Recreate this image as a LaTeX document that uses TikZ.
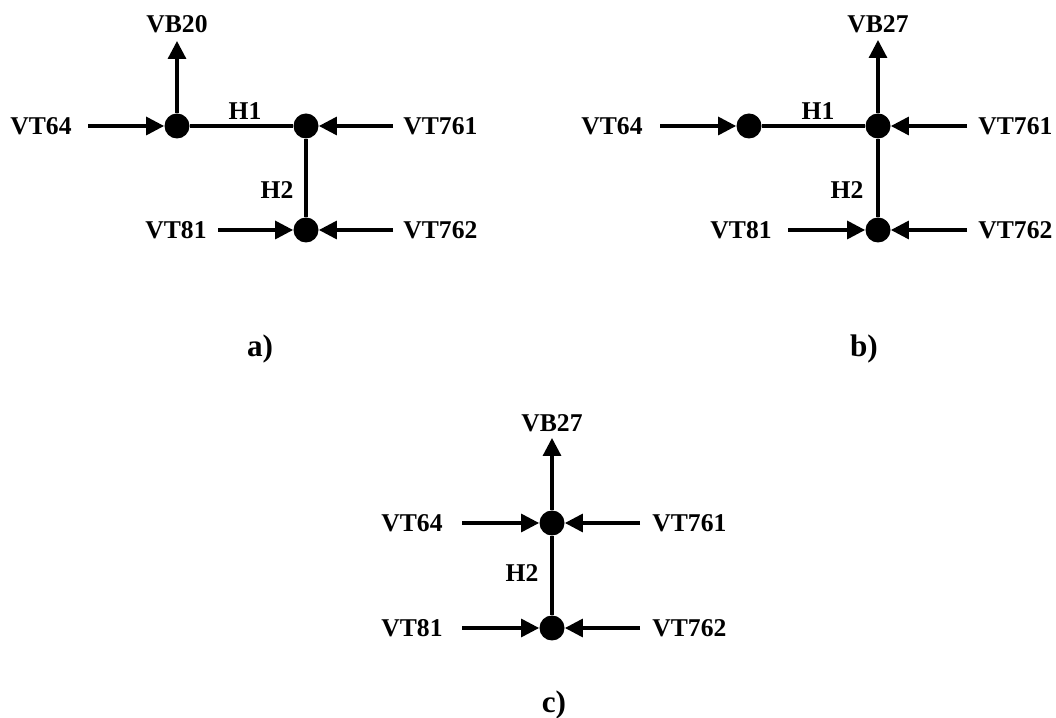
\documentclass[tikz,border=0pt]{standalone}
\usepackage{fontspec}
\setmainfont{Liberation Serif}
\usetikzlibrary{arrows.meta}

\tikzset{
    junction/.style={circle, fill=black, inner sep=0pt, minimum size=12.5pt},
    lbl/.style={font=\fontsize{12.8}{15}\selectfont\bfseries, inner sep=0pt},
    caption/.style={font=\fontsize{15.6}{18}\selectfont\bfseries, inner sep=0pt},
    pipe/.style={line width=1.6pt},
    feed/.style={pipe, -{Triangle[length=9pt,width=9pt]}},
}

\begin{document}
\begin{tikzpicture}[x=0.5pt, y=0.5pt]
    \useasboundingbox (0,0) rectangle (1056,718);

    % a) two junctions on H1, outlet VB20
    \node[junction] (a1) at (177,592) {};
    \node[junction] (a2) at (306,592) {};
    \node[junction] (a3) at (306,488) {};
    \draw[pipe] (a1) -- (a2) -- (a3);
    \node[lbl] (ah1) at (245,607) {H1};
    \node[lbl] (ah2) at (277,528) {H2};
    \node[lbl, anchor=south] (avb) at (177,685) {VB20};
    \node[lbl, anchor=east] (a64) at (72,592) {VT64};
    \node[lbl, anchor=west] (a761) at (403,592) {VT761};
    \node[lbl, anchor=east] (a81) at (207,488) {VT81};
    \node[lbl, anchor=west] (a762) at (403,488) {VT762};
    \draw[feed, shorten >=4pt] (a1) -- (avb);
    \draw[feed, shorten <=8pt] (a64) -- (a1);
    \draw[feed, shorten <=5pt] (a761) -- (a2);
    \draw[feed, shorten <=5.5pt] (a81) -- (a3);
    \draw[feed, shorten <=5pt] (a762) -- (a3);
    \node[caption] (acap) at (260,369) {a)};

    % b) outlet moved to VB27
    \node[junction] (b1) at (749,592) {};
    \node[junction] (b2) at (878,592) {};
    \node[junction] (b3) at (878,488) {};
    \draw[pipe] (b1) -- (b2) -- (b3);
    \node[lbl] (bh1) at (818,607) {H1};
    \node[lbl] (bh2) at (847,528) {H2};
    \node[lbl, anchor=south] (bvb) at (878,685) {VB27};
    \node[lbl, anchor=east] (b64) at (643,592) {VT64};
    \node[lbl, anchor=west] (b761) at (978,592) {VT761};
    \node[lbl, anchor=east] (b81) at (772,488) {VT81};
    \node[lbl, anchor=west] (b762) at (978,488) {VT762};
    \draw[feed, shorten >=3.5pt] (b2) -- (bvb);
    \draw[feed, shorten <=8.5pt] (b64) -- (b1);
    \draw[feed, shorten <=5.5pt] (b761) -- (b2);
    \draw[feed, shorten <=8pt] (b81) -- (b3);
    \draw[feed, shorten <=5.5pt] (b762) -- (b3);
    \node[caption] (bcap) at (864,369) {b)};

    % c) H1 left out
    \node[junction] (c1) at (552,195) {};
    \node[junction] (c2) at (552,90) {};
    \draw[pipe] (c1) -- (c2);
    \node[lbl] (ch2) at (522,145) {H2};
    \node[lbl, anchor=south] (cvb) at (552,286) {VB27};
    \node[lbl, anchor=east] (c64) at (443,195) {VT64};
    \node[lbl, anchor=west] (c761) at (652,195) {VT761};
    \node[lbl, anchor=east] (c81) at (443,90) {VT81};
    \node[lbl, anchor=west] (c762) at (652,90) {VT762};
    \draw[feed, shorten >=3pt] (c1) -- (cvb);
    \draw[feed, shorten <=9.5pt] (c64) -- (c1);
    \draw[feed, shorten <=6pt] (c761) -- (c1);
    \draw[feed, shorten <=9.5pt] (c81) -- (c2);
    \draw[feed, shorten <=6pt] (c762) -- (c2);
    \node[caption] (ccap) at (554,13) {c)};
\end{tikzpicture}
\end{document}
